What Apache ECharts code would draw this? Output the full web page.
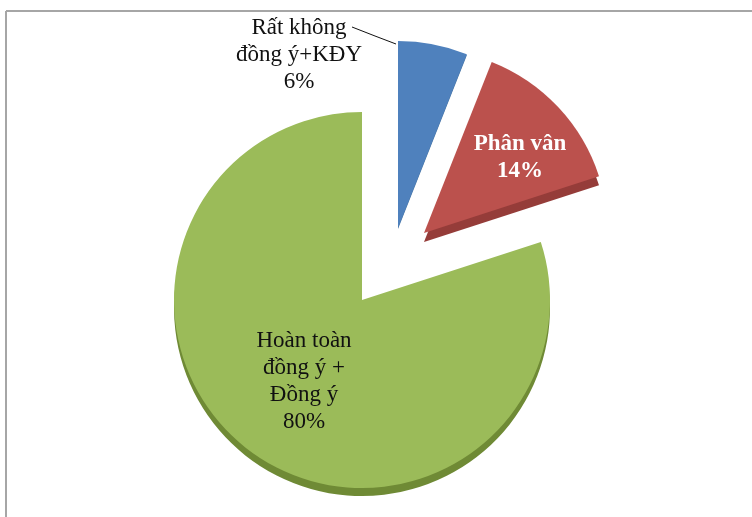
<!DOCTYPE html>
<html><head><meta charset="utf-8">
<style>html,body{margin:0;padding:0;background:#fff}#c{width:752px;height:517px}</style>
<script src="https://cdn.jsdelivr.net/npm/echarts@6/dist/echarts.min.js"></script>
</head><body><div id="c"></div>
<script>
const categories = ['Rất không\nđồng ý+KĐY', 'Phân vân', 'Hoàn toàn\nđồng ý +\nĐồng ý'];
const values = [6, 14, 80];

const topColors = ['#4f81bd', '#bb514d', '#9bbb59'];
const sideColors = ['#46729f', '#953c39', '#6f8a35'];
const centers = [[398, 228], [424, 233], [362, 300]];
const radii = [187, 184, 188];
const depths = [1, 9, 8];
const labelColors = ['#111', '#fff', '#111'];
const labelWeights = ['normal', 'bold', 'normal'];
const labelAt = [[299, 55], [520, 158], [304, 381]];

const chart = echarts.init(document.getElementById('c'), null, {renderer: 'canvas'});

function pieFor(idx, side) {
  return {
    type: 'pie',
    z: side ? 1 : 2,
    silent: true,
    animation: false,
    startAngle: 90,
    avoidLabelOverlap: false,
    center: [centers[idx][0], centers[idx][1] + (side ? depths[idx] : 0)],
    radius: [0, radii[idx]],
    labelLine: {show: false},
    label: {show: false},
    data: categories.map((name, i) => {
      const on = i === idx;
      const showLabel = on && !side;
      return {
        name, value: values[i],
        itemStyle: {color: on ? (side ? sideColors[i] : topColors[i]) : 'transparent'},
        label: {
          show: showLabel,
          position: i === 0 ? 'outside' : 'inside',
          formatter: '{b}\n{d}%',
          fontFamily: 'Liberation Serif',
          fontSize: 23,
          lineHeight: 27,
          align: 'center',
          color: labelColors[i],
          fontWeight: labelWeights[i]
        },
        labelLine: {show: showLabel && i === 0, lineStyle: {color: '#111', width: 1}}
      };
    }),
    labelLayout: side ? undefined : function (p) {
      if (p.dataIndex !== idx) return {};
      const out = {x: labelAt[idx][0], y: labelAt[idx][1], align: 'center', verticalAlign: 'middle'};
      if (idx === 0) out.labelLinePoints = [[352, 27], [375, 36], [396, 44]];
      return out;
    }
  };
}

const series = [];
values.forEach((v, i) => { series.push(pieFor(i, true)); });
values.forEach((v, i) => { series.push(pieFor(i, false)); });

chart.setOption({
  backgroundColor: '#fff',
  animation: false,
  graphic: [
    {type: 'line', shape: {x1: 6, y1: 11, x2: 752, y2: 11}, style: {stroke: '#a6a6a6', lineWidth: 2}},
    {type: 'line', shape: {x1: 6, y1: 11, x2: 6, y2: 517}, style: {stroke: '#a6a6a6', lineWidth: 2}}
  ],
  series
});
</script></body></html>
